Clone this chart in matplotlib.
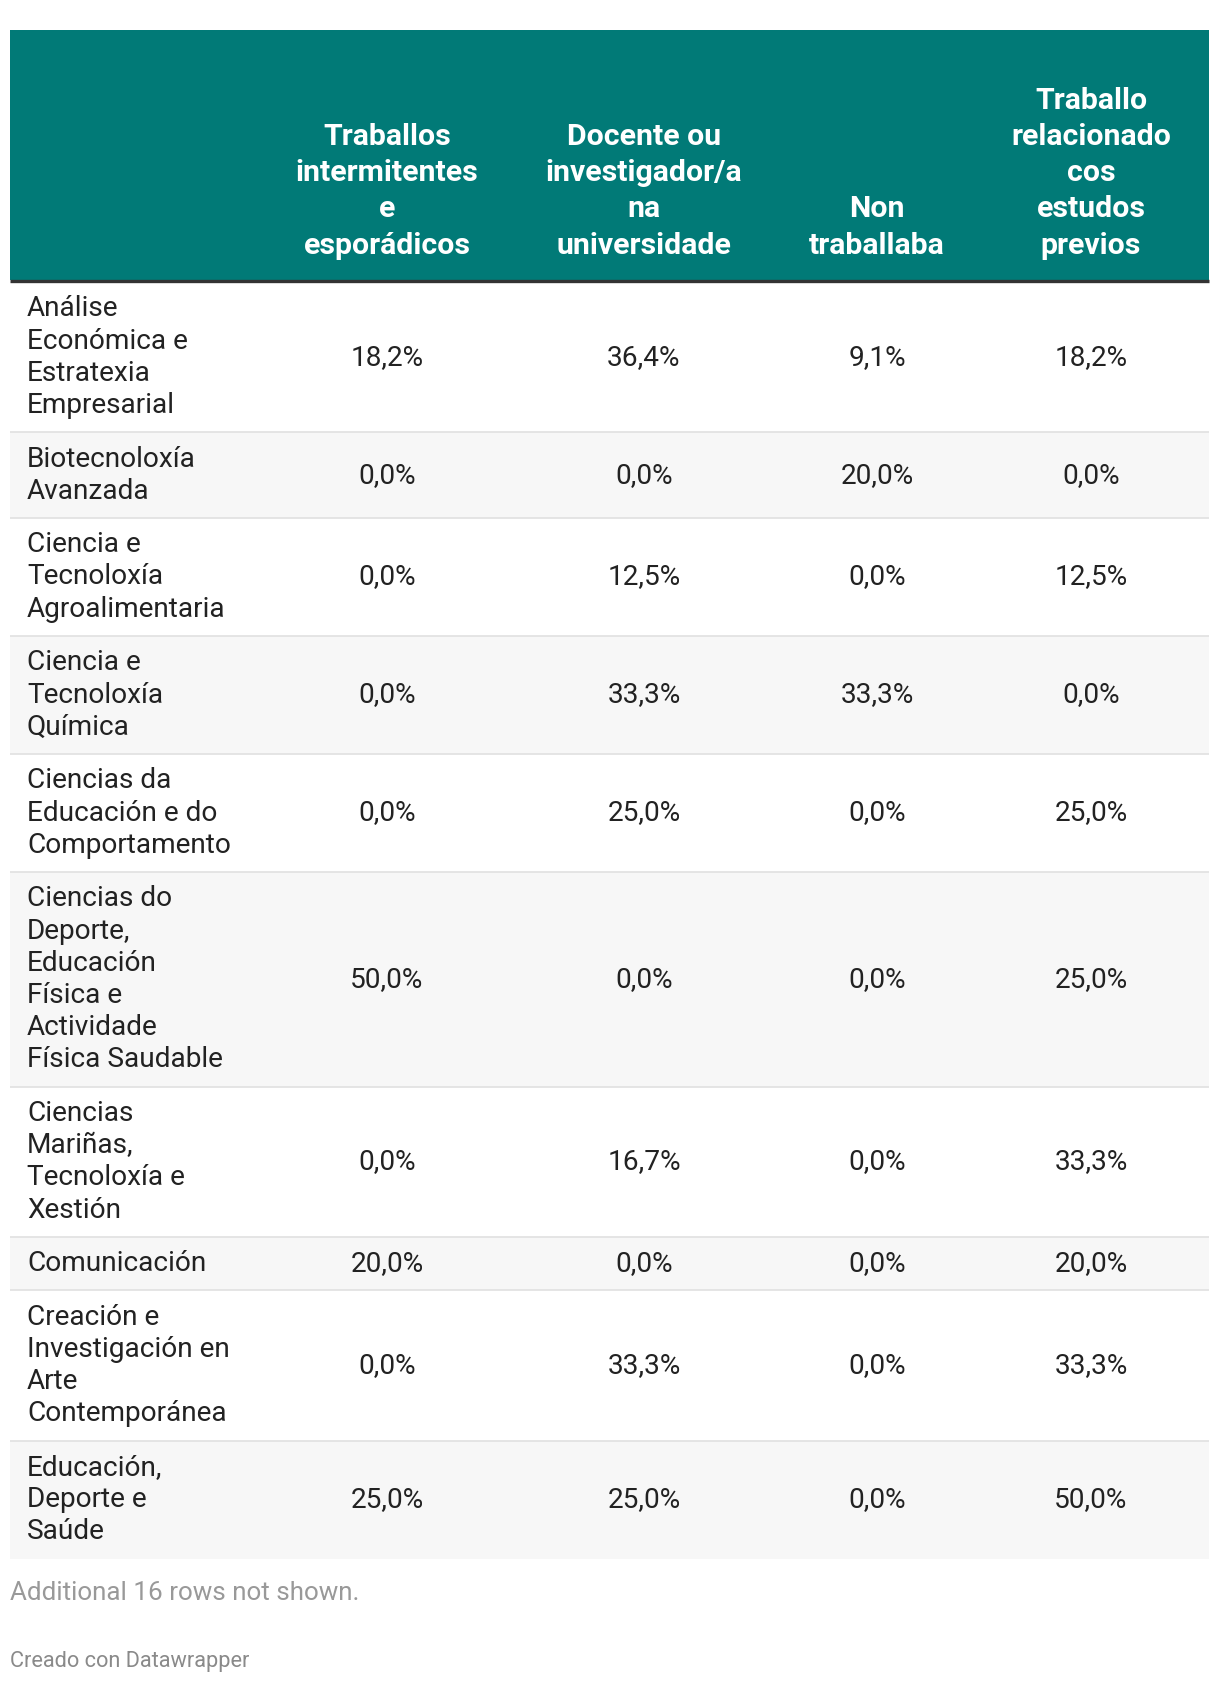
import matplotlib
matplotlib.use("Agg")
import matplotlib.pyplot as plt
from matplotlib.patches import Rectangle

plt.rcParams["font.family"] = ["Roboto", "DejaVu Sans"]

# ---- data ----
row_labels = [
    "Análise\nEconómica e\nEstratexia\nEmpresarial",
    "Biotecnoloxía\nAvanzada",
    "Ciencia e\nTecnoloxía\nAgroalimentaria",
    "Ciencia e\nTecnoloxía\nQuímica",
    "Ciencias da\nEducación e do\nComportamento",
    "Ciencias do\nDeporte,\nEducación\nFísica e\nActividade\nFísica Saudable",
    "Ciencias\nMariñas,\nTecnoloxía e\nXestión",
    "Comunicación",
    "Creación e\nInvestigación en\nArte\nContemporánea",
    "Educación,\nDeporte e\nSaúde",
]
col_headers = [
    "Traballos\nintermitentes\ne\nesporádicos",
    "Docente ou\ninvestigador/a\nna\nuniversidade",
    "Non\ntraballaba",
    "Traballo\nrelacionado\ncos\nestudos\nprevios",
]
intermitentes = [18.2, 0.0, 0.0, 0.0, 0.0, 50.0, 0.0, 20.0, 0.0, 25.0]
docente = [36.4, 0.0, 12.5, 33.3, 25.0, 0.0, 16.7, 0.0, 33.3, 25.0]
non_traballaba = [9.1, 20.0, 0.0, 33.3, 0.0, 0.0, 0.0, 0.0, 0.0, 0.0]
relacionado = [18.2, 0.0, 12.5, 0.0, 25.0, 25.0, 33.3, 20.0, 33.3, 50.0]
columns = [intermitentes, docente, non_traballaba, relacionado]
note = "Additional 16 rows not shown."
credit = "Creado con Datawrapper"

# ---- layout (pixels) ----
W, H = 1220, 1682
LEFT, RIGHT = 10, 1209
HEAD_TOP, HEAD_BOTTOM = 30, 280
COL_X = [387, 644, 877, 1091]
LABEL_X = 27
LINE_H = 32.2
PAD = 10.7
HEAD_LINE_H = 36.2
TEAL = "#017a77"
STRIPE = "#f7f7f7"
SEP = "#e3e3e3"
TEXT = "#222222"
FS = 20.2
HEAD_FS = 21.8

fig = plt.figure(figsize=(W / 100, H / 100), dpi=100)
ax = fig.add_axes([0, 0, 1, 1])
ax.set_xlim(0, W)
ax.set_ylim(H, 0)
ax.axis("off")

# header
ax.add_patch(Rectangle((LEFT, HEAD_TOP), RIGHT - LEFT, HEAD_BOTTOM - HEAD_TOP,
                       color=TEAL, lw=0))
last_center = HEAD_BOTTOM - 34.5
for x, head in zip(COL_X, col_headers):
    lines = head.split("\n")
    for i, line in enumerate(reversed(lines)):
        ax.text(x, last_center - i * HEAD_LINE_H, line, ha="center", va="center",
                color="white", fontsize=HEAD_FS, fontweight="bold")

# body rows
y = HEAD_BOTTOM + 2
for r, label in enumerate(row_labels):
    lines = label.split("\n")
    h = len(lines) * LINE_H + 2 * PAD
    if r % 2 == 1:
        ax.add_patch(Rectangle((LEFT, y), RIGHT - LEFT, h, color=STRIPE, lw=0))
    for i, line in enumerate(lines):
        ax.text(LABEL_X, y + PAD + LINE_H * (i + 0.5), line, ha="left", va="center",
                color=TEXT, fontsize=FS)
    for x, col in zip(COL_X, columns):
        val = f"{col[r]:.1f}%".replace(".", ",")
        ax.text(x, y + h / 2, val, ha="center", va="center", color=TEXT, fontsize=FS)
    y += h
    if r < len(row_labels) - 1:
        ax.plot([LEFT, RIGHT], [y, y], color=SEP, lw=1.3, solid_capstyle="butt")

# header bottom rule
ax.plot([LEFT, RIGHT], [HEAD_BOTTOM + 1, HEAD_BOTTOM + 1], color="#333333", lw=2.4,
        solid_capstyle="butt")

ax.text(LEFT, 1593, note, ha="left", va="center", color="#999999", fontsize=18.7)
ax.text(LEFT, 1661, credit, ha="left", va="center", color="#8a8a8a", fontsize=15.7)

fig.savefig("out.png", dpi=100, facecolor="white")
